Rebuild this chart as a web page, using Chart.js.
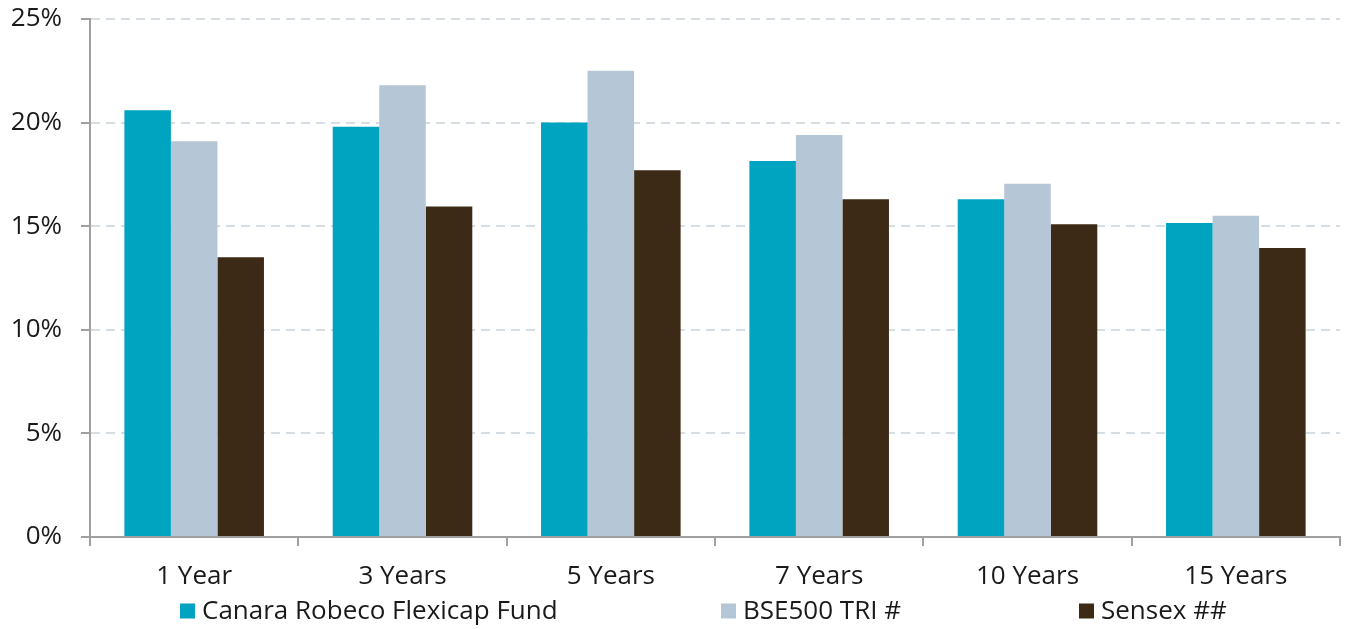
<!DOCTYPE html>
<html>
<head>
<meta charset="utf-8">
<script src="https://cdn.jsdelivr.net/npm/chart.js@4.4.1/dist/chart.umd.min.js"></script>
<style>
  html, body { margin: 0; padding: 0; background: #fff; }
  #wrap { width: 1355px; height: 629px; position: relative; }
</style>
</head>
<body>
<div id="wrap"><canvas id="returnsChart"></canvas></div>
<script>
const periods = ["1 Year", "3 Years", "5 Years", "7 Years", "10 Years", "15 Years"];
const fundReturns = [20.6, 19.8, 20.0, 18.15, 16.3, 15.15];
const bse500Returns = [19.1, 21.8, 22.5, 19.4, 17.05, 15.5];
const sensexReturns = [13.5, 15.95, 17.7, 16.3, 15.1, 13.95];
const yTicks = [0, 5, 10, 15, 20, 25];

const FONT = "'Open Sans', sans-serif";
const FONT_SIZE = 26;
const TEXT = "#1a1a1a";
const AXIS = "#a0a0a0";

// legend drawn by hand so the items can be spread out like the original
const spreadLegend = {
  id: "spreadLegend",
  afterDraw(chart, args, opts) {
    const ctx = chart.ctx;
    ctx.save();
    ctx.font = FONT_SIZE + "px " + FONT;
    ctx.textBaseline = "middle";
    chart.data.datasets.forEach((ds, i) => {
      const x = opts.x[i];
      ctx.fillStyle = ds.backgroundColor;
      ctx.fillRect(x, opts.y - 7.5, 15, 15);
      ctx.fillStyle = TEXT;
      ctx.fillText(ds.label, x + 22, opts.y + 1);
    });
    ctx.restore();
  }
};

new Chart(document.getElementById("returnsChart"), {
  type: "bar",
  data: {
    labels: periods,
    datasets: [
      { label: "Canara Robeco Flexicap Fund", data: fundReturns, backgroundColor: "#00a3c0" },
      { label: "BSE500 TRI #", data: bse500Returns, backgroundColor: "#b5c6d6" },
      { label: "Sensex ##", data: sensexReturns, backgroundColor: "#3c2a16" }
    ]
  },
  options: {
    responsive: true,
    maintainAspectRatio: false,
    animation: false,
    layout: { padding: { top: 19, right: 15, left: 0, bottom: 37 } },
    datasets: { bar: { categoryPercentage: 0.67, barPercentage: 1.0 } },
    plugins: {
      legend: { display: false },
      tooltip: { enabled: false },
      spreadLegend: { x: [180, 721, 1079], y: 611 }
    },
    scales: {
      x: {
        offset: true,
        grid: { drawOnChartArea: false, tickLength: 9, color: AXIS, tickColor: AXIS, lineWidth: 2 },
        border: { color: AXIS, width: 2 },
        ticks: { color: TEXT, font: { family: FONT, size: FONT_SIZE }, padding: 15, maxRotation: 0 },
        afterFit(scale) { scale.height = 55; }
      },
      y: {
        min: 0,
        max: 25,
        afterBuildTicks(scale) { scale.ticks = yTicks.map(v => ({ value: v })); },
        grid: {
          color: "#d5dde5",
          lineWidth: 2,
          tickLength: 9,
          tickColor: AXIS,
          tickBorderDash: [1, 0]
        },
        border: { color: AXIS, width: 2, dash: [9, 6] },
        ticks: {
          color: TEXT,
          font: { family: FONT, size: FONT_SIZE },
          padding: 19,
          callback: v => v + "%"
        },
        afterFit(scale) {
          scale.width = 90;
          scale.paddingTop = 0;
          scale.paddingBottom = 0;
        }
      }
    }
  },
  plugins: [spreadLegend]
});
</script>
</body>
</html>
